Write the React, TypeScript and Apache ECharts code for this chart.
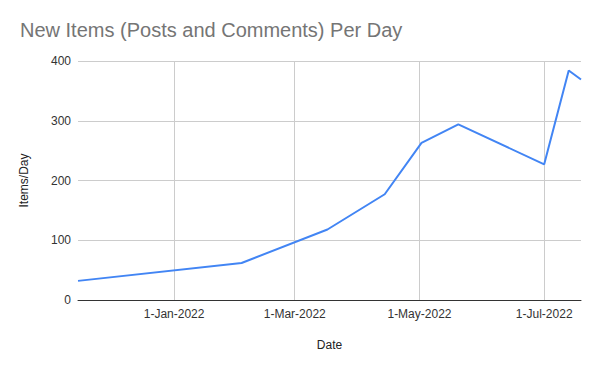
import React, { useEffect, useRef } from "react";
import * as echarts from "echarts";

const dates: string[] = [
  "2021-11-15",
  "2022-02-03",
  "2022-03-17",
  "2022-04-14",
  "2022-05-02",
  "2022-05-20",
  "2022-07-01",
  "2022-07-13",
  "2022-07-19",
];
const itemsPerDay: number[] = [32, 62, 118, 177, 263, 294, 227, 384, 369];
const yTicks: number[] = [0, 100, 200, 300, 400];
const monthNames: string[] = ["Jan", "Feb", "Mar", "Apr", "May", "Jun", "Jul", "Aug", "Sep", "Oct", "Nov", "Dec"];

const toTs = (s: string) => {
  const [y, m, d] = s.split("-").map(Number);
  return Date.UTC(y, m - 1, d);
};

export default function App() {
  const ref = useRef<HTMLDivElement>(null);
  useEffect(() => {
    if (!ref.current) return;
    const chart = echarts.init(ref.current, null, { renderer: "svg" });
    const font = "Arial, 'Liberation Sans', sans-serif";
    const seriesData = dates.map((d, i) => [toTs(d), itemsPerDay[i]]);
    chart.setOption({
      animation: false,
      useUTC: true,
      backgroundColor: "#ffffff",
      title: {
        text: "New Items (Posts and Comments) Per Day",
        left: 15,
        top: 15,
        textStyle: { fontFamily: font, fontSize: 20, fontWeight: "normal", color: "#757575" },
      },
      grid: { left: 78, right: 19, top: 61, bottom: 71, containLabel: false },
      xAxis: {
        type: "time",
        min: toTs(dates[0]),
        max: toTs(dates[dates.length - 1]),
        minInterval: 65 * 24 * 3600 * 1000,
        maxInterval: 65 * 24 * 3600 * 1000,
        name: "Date",
        nameLocation: "middle",
        nameGap: 39,
        nameTextStyle: { fontFamily: font, fontSize: 12, color: "#222" },
        axisLine: { show: true, lineStyle: { color: "#333", width: 1 } },
        axisTick: { show: false },
        axisLabel: {
          fontFamily: font,
          fontSize: 12,
          color: "#333",
          margin: 8,
          showMinLabel: false,
          showMaxLabel: false,
          hideOverlap: false,
          formatter: (v: number) => {
            const dt = new Date(v);
            if (dt.getUTCDate() !== 1) return "";
            return `1-${monthNames[dt.getUTCMonth()]}-${dt.getUTCFullYear()}`;
          },
        },
        splitLine: { show: true, showMinLine: false, showMaxLine: false, lineStyle: { color: "#cccccc", width: 1 } },
      },
      yAxis: {
        type: "value",
        min: yTicks[0],
        max: yTicks[yTicks.length - 1],
        interval: 100,
        name: "Items/Day",
        nameLocation: "middle",
        nameGap: 48,
        nameTextStyle: { fontFamily: font, fontSize: 12, color: "#222" },
        axisLine: { show: false },
        axisTick: { show: false },
        axisLabel: { fontFamily: font, fontSize: 12, color: "#333", margin: 7 },
        splitLine: { show: true, lineStyle: { color: "#cccccc", width: 1 } },
      },
      series: [
        {
          type: "line",
          data: seriesData,
          showSymbol: false,
          symbol: "none",
          lineStyle: { color: "#4285F4", width: 2 },
          itemStyle: { color: "#4285F4" },
        },
      ],
    });
    return () => chart.dispose();
  }, []);
  return <div ref={ref} style={{ width: 600, height: 371, position: "absolute", left: 0, top: 0 }} />;
}
